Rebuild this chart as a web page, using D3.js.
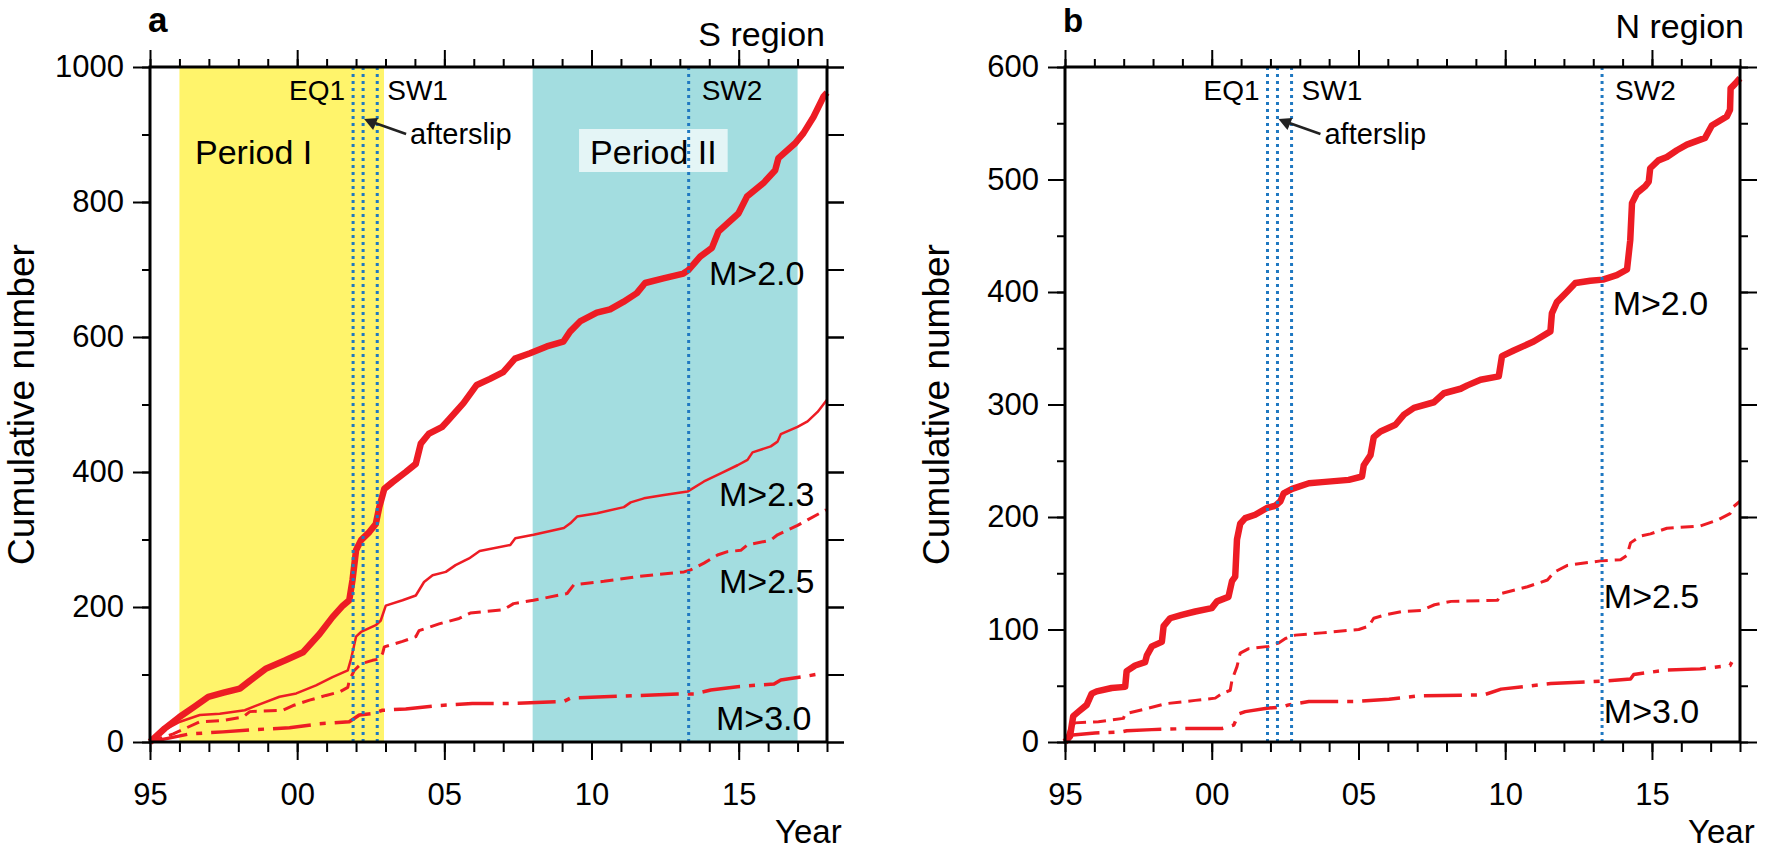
<!DOCTYPE html>
<html>
<head>
<meta charset="utf-8">
<script src="https://cdn.jsdelivr.net/npm/d3@7"></script>
<style>
  body { margin: 0; background: #fff; }
  svg text { font-family: "Liberation Sans", Arial, Helvetica, sans-serif; }
</style>
</head>
<body>
<svg id="chart" width="1772" height="850"></svg>
<script>
// ---- data ----
var yearTicks = [1995, 1996, 1997, 1998, 1999, 2000, 2001, 2002, 2003, 2004, 2005, 2006,
                 2007, 2008, 2009, 2010, 2011, 2012, 2013, 2014, 2015, 2016, 2017, 2018];
var yearMajor = [1995, 2000, 2005, 2010, 2015];
var yearLabels = ["95", "00", "05", "10", "15"];

// event times (decimal year)
var eventNames = ["EQ1", "afterslip", "SW1", "SW2"];
var eventYears = [2001.9, 2002.24, 2002.72, 2013.3];

// shaded periods
var periodNames = ["Period I", "Period II"];
var periodStart = [1996.0, 2008.0];
var periodEnd = [2002.95, 2017.0];

// S region cumulative counts [year, count]
var sM20 = [[1995,0],[1995.5,20],[1996.0,37],[1996.5,52],[1996.98,67],[1997.5,73],[1998.05,79],[1998.4,91],
  [1998.95,109],[1999.6,121],[2000.2,133],[2000.76,160],[2001.2,185],[2001.55,202],[2001.77,210],[2001.88,240],
  [2002.0,284],[2002.17,299],[2002.45,311],[2002.67,323],[2002.79,348],[2002.96,375],[2003.24,385],[2003.69,400],
  [2004.03,412],[2004.2,442],[2004.48,457],[2004.93,467],[2005.14,477],[2005.65,502],[2006.1,529],[2006.55,538],
  [2007.0,548],[2007.4,568],[2007.91,576],[2008.48,586],[2009.04,593],[2009.27,608],[2009.61,623],[2010.18,636],
  [2010.63,641],[2011.08,652],[2011.54,665],[2011.82,680],[2012.44,687],[2013.12,694],[2013.29,699],[2013.69,719],
  [2014.09,732],[2014.31,756],[2014.99,783],[2015.28,808],[2015.84,828],[2016.24,847],[2016.35,865],[2016.92,887],
  [2017.2,902],[2017.54,926],[2017.88,956],[2018,962]];
var sM23 = [[1995,0],[1995.45,17],[1996.02,30],[1996.69,40],[1997.37,42],[1998.22,47],[1998.61,54],[1999.4,67],
  [1999.97,72],[2000.64,84],[2001.2,96],[2001.72,106],[2001.83,123],[2002.0,156],[2002.17,163],[2002.67,173],
  [2002.84,180],[2003.01,202],[2003.58,210],[2004.03,217],[2004.31,237],[2004.6,247],[2005.05,252],[2005.38,262],
  [2005.84,272],[2006.2,283],[2007.24,292],[2007.41,302],[2008.03,307],[2009.06,317],[2009.28,324],[2009.51,334],
  [2010.19,339],[2011.1,348],[2011.33,355],[2011.78,361],[2012.46,366],[2013.26,371],[2013.82,386],[2014.39,398],
  [2014.96,410],[2015.3,418],[2015.47,429],[2016.09,438],[2016.32,445],[2016.43,456],[2017.0,467],[2017.34,475],
  [2017.68,489],[2018,507]];
var sM25 = [[1995,0],[1995.79,12],[1996.69,30],[1997.48,32],[1998.16,37],[1998.39,45],[1999.51,47],[1999.86,54],
  [2000.42,62],[2000.98,69],[2001.43,74],[2001.72,81],[2001.77,91],[2001.94,106],[2002.17,116],[2002.56,121],
  [2002.79,123],[2002.9,131],[2002.96,141],[2003.58,149],[2004.03,156],[2004.14,165],[2004.82,175],[2005.5,183],
  [2005.88,191],[2007.01,196],[2007.35,205],[2008.03,210],[2009.17,220],[2009.4,233],[2010.42,238],[2011.55,245],
  [2013.14,252],[2013.37,255],[2013.82,265],[2014.28,277],[2014.62,282],[2015.07,284],[2015.3,292],[2016.09,299],
  [2016.32,307],[2017.0,321],[2017.34,329],[2017.97,344]];
var sM30 = [[1995,0],[1995.56,5],[1996.35,12],[1997.48,15],[1998.39,18],[1999.74,21],[2000.76,27],[2001.77,30],
  [2002.11,40],[2002.56,42],[2002.9,47],[2003.69,49],[2004.82,54],[2005.95,57],[2007.24,57],[2009.06,60],
  [2009.28,65],[2010.99,68],[2012.92,71],[2013.48,71],[2014.05,77],[2014.96,82],[2016.2,86],[2016.43,92],
  [2017.23,97],[2017.75,101]];

// N region cumulative counts [year, count]
var nM20 = [[1995,0],[1995.17,5],[1995.28,23],[1995.46,27],[1995.74,33],[1995.91,43],[1996.08,45],[1996.59,48],
  [1997.05,49],[1997.1,63],[1997.39,68],[1997.73,71],[1997.79,77],[1997.96,85],[1998.3,89],[1998.36,103],
  [1998.58,110],[1998.98,113],[1999.44,116],[2000.0,119],[2000.18,125],[2000.57,129],[2000.69,143],[2000.8,147],
  [2000.86,180],[2000.97,194],[2001.14,199],[2001.48,202],[2001.88,208],[2002.17,210],[2002.34,214],[2002.45,221],
  [2002.74,225],[2003.31,230],[2003.76,231],[2004.67,233],[2005.12,236],[2005.18,246],[2005.41,255],[2005.52,271],
  [2005.75,276],[2006.26,282],[2006.55,291],[2006.89,297],[2007.57,302],[2007.91,310],[2008.48,314],[2008.71,317],
  [2009.16,322],[2009.78,325],[2009.89,343],[2010.29,348],[2010.97,356],[2011.54,365],[2011.59,381],[2011.76,391],
  [2012.1,400],[2012.39,408],[2012.9,410],[2013.33,411],[2013.8,415],[2014.15,420],[2014.26,446],[2014.32,479],
  [2014.49,488],[2014.77,494],[2014.89,498],[2014.94,510],[2015.22,517],[2015.51,520],[2015.85,526],[2016.19,531],
  [2016.81,537],[2017.04,548],[2017.55,556],[2017.66,562],[2017.68,581],[2017.83,585],[2018,590]];
var nM25 = [[1995,0],[1995.17,12],[1995.34,17],[1996.14,18],[1996.99,21],[1997.05,25],[1997.84,30],[1998.41,34],
  [1999.44,37],[2000.12,39],[2000.35,43],[2000.63,46],[2000.69,55],[2000.86,67],[2000.97,79],[2001.26,83],
  [2001.94,85],[2002.28,88],[2002.51,92],[2002.85,95],[2003.76,97],[2005.01,100],[2005.35,103],[2005.52,110],
  [2005.92,113],[2006.49,116],[2007.14,117],[2007.59,122],[2008.16,125],[2009.74,126],[2009.86,132],[2010.76,138],
  [2011.44,144],[2011.67,151],[2012.12,157],[2013.25,161],[2013.93,162],[2014.15,166],[2014.27,177],[2014.61,183],
  [2014.95,185],[2015.51,190],[2016.64,192],[2017.21,197],[2017.66,203],[2017.77,209],[2018,214]];
var nM30 = [[1995,0],[1995.17,6],[1996.02,8],[1996.93,9],[1997.1,10],[1997.96,11],[1999.21,12],[2000.35,12],
  [2000.75,15],[2000.92,25],[2001.14,27],[2001.88,30],[2002.39,31],[2002.62,33],[2003.31,36],[2004.9,36],
  [2006.04,38],[2007.06,41],[2009.29,42],[2009.86,47],[2011.55,52],[2013.25,54],[2014.27,56],[2014.38,60],
  [2015.51,64],[2016.64,65],[2017.66,68],[2017.72,71]];

// ---- drawing ----
var svg = d3.select("#chart");
var red = "#ed1c24", blue = "#1f78c1";

var styles = {
  "M>2.0": { width: 6.5, dash: null },
  "M>2.3": { width: 2.5, dash: null },
  "M>2.5": { width: 3, dash: "13,7" },
  "M>3.0": { width: 3.5, dash: "38,9,6,9" }
};

function drawPanel(p)
{
  var x = d3.scaleLinear().domain([1995, 2018]).range([p.left, p.right]);
  var y = d3.scaleLinear().domain([0, p.yMax]).range([p.bottom, p.top]);
  var g = svg.append("g");

  // shaded periods
  if (p.shade) {
    var colors = ["#fff46b", "#a3dde0"];
    periodStart.forEach(function(s, i) {
      g.append("rect")
        .attr("x", x(s)).attr("y", p.top)
        .attr("width", x(periodEnd[i]) - x(s)).attr("height", p.bottom - p.top)
        .attr("fill", colors[i]);
    });
  }

  // curves
  var line = d3.line().x(d => x(d[0])).y(d => y(d[1]));
  p.series.forEach(function(s) {
    g.append("path")
      .datum(s.data)
      .attr("d", line)
      .attr("fill", "none")
      .attr("stroke", red)
      .attr("stroke-width", styles[s.name].width)
      .attr("stroke-dasharray", styles[s.name].dash)
      .attr("stroke-linejoin", "round");
  });

  // period labels
  if (p.shade) {
    g.append("text").attr("x", x(1996.53)).attr("y", p.top + 97)
      .attr("font-size", 34).text(periodNames[0]);
    var t2 = g.append("text").attr("x", x(2009.95)).attr("y", p.top + 97)
      .attr("font-size", 34).text(periodNames[1]);
    var bb = t2.node().getBBox();
    g.insert("rect", "text")
      .attr("x", bb.x - 11).attr("y", p.top + 62)
      .attr("width", bb.width + 22).attr("height", 43)
      .attr("fill", "#fff").attr("fill-opacity", 0.7);
  }

  // event lines
  eventYears.forEach(function(ey) {
    g.append("line")
      .attr("x1", x(ey)).attr("x2", x(ey))
      .attr("y1", p.top).attr("y2", p.bottom)
      .attr("stroke", blue).attr("stroke-width", 3)
      .attr("stroke-dasharray", "3,4");
  });

  // event labels
  g.append("text").attr("x", x(eventYears[0]) - 8).attr("y", p.top + 33)
    .attr("text-anchor", "end").attr("font-size", 28).text(eventNames[0]);
  g.append("text").attr("x", x(eventYears[2]) + 10).attr("y", p.top + 33)
    .attr("font-size", 28).text(eventNames[2]);
  g.append("text").attr("x", x(eventYears[3]) + 13).attr("y", p.top + 33)
    .attr("font-size", 28).text(eventNames[3]);

  // afterslip arrow
  var tipX = x(eventYears[1]) + 1, tipY = p.top + 52;
  g.append("line")
    .attr("x1", tipX + 42).attr("y1", tipY + 15)
    .attr("x2", tipX + 8).attr("y2", tipY + 3)
    .attr("stroke", "#222").attr("stroke-width", 2.5);
  g.append("path")
    .attr("d", "M" + tipX + "," + tipY + " l14,-1 l-5,12 z")
    .attr("fill", "#222");
  g.append("text").attr("x", tipX + 46).attr("y", tipY + 25)
    .attr("font-size", 29).text(eventNames[1]);

  // magnitude labels
  p.series.forEach(function(s) {
    g.append("text")
      .attr("x", x(s.label[0])).attr("y", y(s.label[1]))
      .attr("font-size", 34).text(s.name);
  });

  // axes: ticks point outward
  function styleAxis(a) {
    a.select(".domain").remove();
    a.selectAll(".tick line").attr("stroke", "#000").attr("stroke-width", 2);
    a.selectAll("text").attr("fill", "#000").attr("font-size", 31)
      .attr("font-family", "Liberation Sans, Arial, sans-serif");
    a.attr("font-family", null);
  }
  var noLab = () => "";
  styleAxis(g.append("g").attr("transform", "translate(0," + p.bottom + ")")
    .call(d3.axisBottom(x).tickValues(yearTicks).tickSize(10).tickFormat(noLab)));
  styleAxis(g.append("g").attr("transform", "translate(0," + p.bottom + ")")
    .call(d3.axisBottom(x).tickValues(yearMajor).tickSize(18).tickPadding(23)
      .tickFormat((d, i) => yearLabels[i])));
  styleAxis(g.append("g").attr("transform", "translate(0," + p.top + ")")
    .call(d3.axisTop(x).tickValues(yearTicks).tickSize(8).tickFormat(noLab)));
  styleAxis(g.append("g").attr("transform", "translate(0," + p.top + ")")
    .call(d3.axisTop(x).tickValues(yearMajor).tickSize(17).tickFormat(noLab)));

  var minorY = d3.range(0, p.yMax + 1, p.yMinor);
  var majorY = d3.range(0, p.yMax + 1, p.yMajor);
  styleAxis(g.append("g").attr("transform", "translate(" + p.left + ",0)")
    .call(d3.axisLeft(y).tickValues(minorY).tickSize(8).tickFormat(noLab)));
  styleAxis(g.append("g").attr("transform", "translate(" + p.left + ",0)")
    .call(d3.axisLeft(y).tickValues(majorY).tickSize(17).tickPadding(9)
      .tickFormat(d3.format("d"))));
  styleAxis(g.append("g").attr("transform", "translate(" + p.right + ",0)")
    .call(d3.axisRight(y).tickValues(minorY).tickSize(p.rightMinor).tickFormat(noLab)));
  styleAxis(g.append("g").attr("transform", "translate(" + p.right + ",0)")
    .call(d3.axisRight(y).tickValues(majorY).tickSize(17).tickFormat(noLab)));

  // frame
  g.append("rect")
    .attr("x", p.left).attr("y", p.top)
    .attr("width", p.right - p.left).attr("height", p.bottom - p.top)
    .attr("fill", "none").attr("stroke", "#000").attr("stroke-width", 3);

  // titles
  g.append("text").attr("x", p.left - 2).attr("y", 32)
    .attr("font-size", p.letterSize).attr("font-weight", "bold").text(p.letter);
  g.append("text").attr("x", p.right + p.regionDx).attr("y", p.regionY)
    .attr("text-anchor", "end").attr("font-size", 34).text(p.region);
  g.append("text").attr("x", p.right - 52).attr("y", 843)
    .attr("font-size", 33).text("Year");
  g.append("text")
    .attr("transform", "translate(" + (p.left - 116) + "," + ((p.top + p.bottom) / 2) + ") rotate(-90)")
    .attr("text-anchor", "middle").attr("font-size", 37).text("Cumulative number");
}

drawPanel({
  left: 150, right: 827, top: 67, bottom: 742,
  yMax: 1000, yMajor: 200, yMinor: 100, rightMinor: 17,
  shade: true, letter: "a", letterSize: 35, region: "S region", regionDx: -2, regionY: 46,
  series: [
    { name: "M>2.0", data: sM20, label: [2013.99, 677] },
    { name: "M>2.3", data: sM23, label: [2014.33, 350] },
    { name: "M>2.5", data: sM25, label: [2014.33, 221] },
    { name: "M>3.0", data: sM30, label: [2014.23, 18] }
  ]
});

drawPanel({
  left: 1065, right: 1740, top: 67, bottom: 742,
  yMax: 600, yMajor: 100, yMinor: 50, rightMinor: 8,
  shade: false, letter: "b", letterSize: 33, region: "N region", regionDx: 4, regionY: 38,
  series: [
    { name: "M>2.0", data: nM20, label: [2013.66, 380] },
    { name: "M>2.5", data: nM25, label: [2013.36, 119] },
    { name: "M>3.0", data: nM30, label: [2013.36, 17] }
  ]
});
</script>
</body>
</html>
